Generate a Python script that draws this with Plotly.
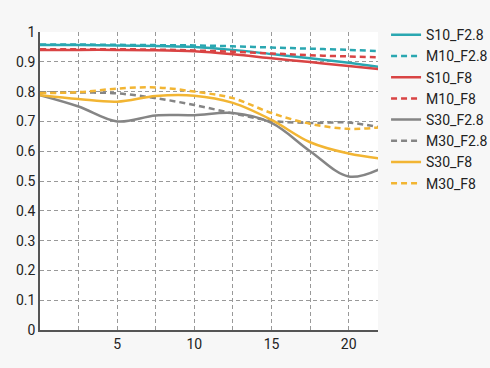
import plotly.graph_objects as go

x_mm = [0, 2.5, 5, 7.5, 10, 12.5, 15, 17.5, 20, 22]

s10_f28 = [0.956, 0.956, 0.955, 0.953, 0.950, 0.940, 0.926, 0.912, 0.897, 0.883]
m10_f28 = [0.958, 0.958, 0.957, 0.956, 0.955, 0.952, 0.948, 0.944, 0.940, 0.936]
s10_f8 = [0.940, 0.940, 0.940, 0.939, 0.935, 0.925, 0.912, 0.899, 0.886, 0.875]
m10_f8 = [0.942, 0.942, 0.942, 0.941, 0.938, 0.934, 0.928, 0.922, 0.918, 0.915]
s30_f28 = [0.788, 0.750, 0.700, 0.720, 0.721, 0.728, 0.695, 0.600, 0.515, 0.540]
m30_f28 = [0.798, 0.797, 0.794, 0.778, 0.755, 0.727, 0.702, 0.695, 0.696, 0.680]
s30_f8 = [0.788, 0.775, 0.766, 0.785, 0.786, 0.762, 0.705, 0.630, 0.592, 0.576]
m30_f8 = [0.795, 0.798, 0.810, 0.814, 0.800, 0.778, 0.728, 0.692, 0.675, 0.680]

series_names = ["S10_F2.8", "M10_F2.8", "S10_F8", "M10_F8",
                "S30_F2.8", "M30_F2.8", "S30_F8", "M30_F8"]
series_values = [s10_f28, m10_f28, s10_f8, m10_f8, s30_f28, m30_f28, s30_f8, m30_f8]
series_colors = ["#2aa7b1", "#2aa7b1", "#d94444", "#d94444",
                 "#858585", "#858585", "#f2b533", "#f2b533"]
series_dash = ["solid", "6px,4px", "solid", "6px,4px", "solid", "6px,4px", "solid", "6px,4px"]

x_tickvals = [2.5, 5, 7.5, 10, 12.5, 15, 17.5, 20]
x_ticktext = ["", "5", "", "10", "", "15", "", "20"]

fig = go.Figure()
for name, vals, col, dash in zip(series_names, series_values, series_colors, series_dash):
    fig.add_trace(go.Scatter(x=x_mm, y=vals, name=name, mode="lines",
                             line=dict(color=col, width=2.5, dash=dash, shape="spline", smoothing=1.0)))

grid = dict(showgrid=True, gridcolor="#999999", griddash="4px,3px", gridwidth=1)
fig.update_layout(
    width=490, height=368,
    margin=dict(l=40, r=0, t=32, b=38, autoexpand=False),
    paper_bgcolor="#f7f7f7", plot_bgcolor="#ffffff",
    font=dict(family="Roboto", size=14, color="#222222"),
    xaxis=dict(range=[0, 21.9], domain=[0, 338 / 450], tickvals=x_tickvals, ticktext=x_ticktext,
               showline=True, linecolor="#555555", linewidth=1.5,
               zeroline=False, ticks="", **grid),
    yaxis=dict(range=[0, 1], dtick=0.1, tick0=0,
               showline=True, linecolor="#555555", linewidth=1.5,
               zeroline=False, ticks="", **grid),
    legend=dict(x=0.769, xanchor="left", y=1.043, yanchor="top",
                bgcolor="rgba(0,0,0,0)", font=dict(size=14, color="#222222"),
                tracegroupgap=0),
)
fig.write_html("out.html", config={"displayModeBar": False},
               post_script="document.body.style.margin='0';document.body.style.background='#f7f7f7';")
